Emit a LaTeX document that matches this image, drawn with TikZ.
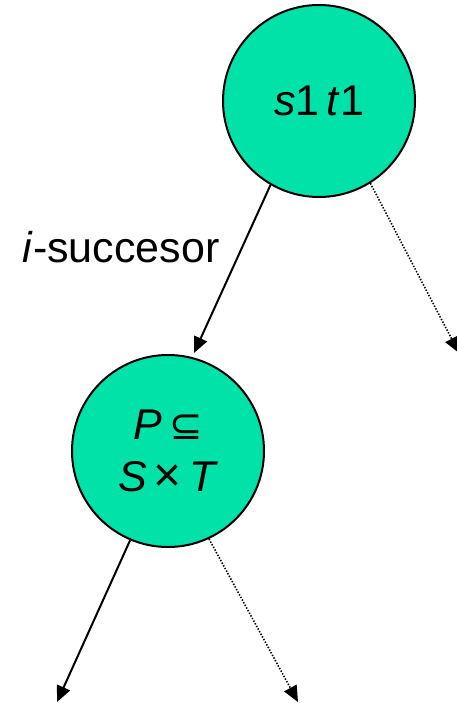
\documentclass[tikz,border=0pt]{standalone}
\usepackage{fontspec}
\setmainfont{Liberation Sans}
\newfontfamily\symfont{DejaVu Sans}
\usetikzlibrary{arrows.meta}
\definecolor{nodegreen}{RGB}{0,226,168}
\begin{document}
\begin{tikzpicture}[x=1pt,y=-1pt,
  treenode/.style={circle,draw=black,line width=2pt,fill=nodegreen,minimum size=192pt,inner sep=0pt,font=\fontsize{43}{50}\selectfont,align=center},
  edgesolid/.style={line width=2pt,-{Triangle[length=16pt,width=14pt]}},
  edgedotted/.style={line width=1.6pt,dash pattern=on 1.4pt off 1.6pt,-{Triangle[length=16pt,width=14pt]}}]
\useasboundingbox (0,0) rectangle (456,703);
\node[treenode] (top) at (319,101) {\textit{s}1\,\textit{t}1};
\node[treenode] (bot) at (168,451) {\textit{P}\,{\symfont\fontsize{40}{44}\selectfont ⊆}\\[2pt]\textit{S}\,{\fontsize{48}{50}\selectfont ×}\,\textit{T}};
\coordinate (t1) at (194,353);
\coordinate (t2) at (459,353);
\coordinate (b1) at (57,702);
\coordinate (b2) at (298,702);
\draw[edgesolid] (top.240) -- (t1);
\draw[edgedotted] (top.302) -- (t2);
\draw[edgesolid] (bot.247) -- (b1);
\draw[edgedotted] (bot.295) -- (b2);
\node[font=\fontsize{43}{50}\selectfont,anchor=base] (lab) at (121,262) {\textit{i}-succesor};
\end{tikzpicture}
\end{document}
